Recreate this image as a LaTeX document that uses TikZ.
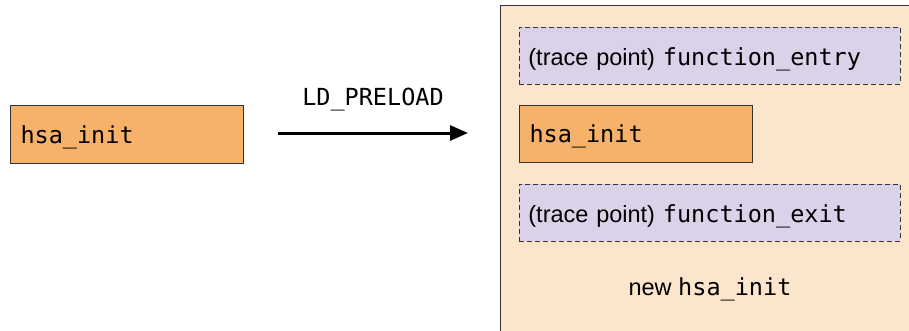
\documentclass[tikz,border=0pt]{standalone}
\usepackage{fontspec}
\setmainfont{Liberation Sans}
\setmonofont{DejaVu Sans Mono}
\usetikzlibrary{arrows.meta}
\definecolor{orangebox}{HTML}{F6B26B}
\definecolor{peach}{HTML}{FCE5CD}
\definecolor{lavender}{HTML}{D9D2E9}
\definecolor{edge}{HTML}{333333}
\tikzset{
  funcbox/.style={draw=edge, line width=1pt, fill=orangebox, anchor=north west,
    minimum height=58pt, text width=213pt, inner xsep=10pt, align=left,
    text height=18pt, text depth=1pt,
    font=\fontsize{23.5}{28}\selectfont\ttfamily},
  tracebox/.style={draw=edge, line width=0.8pt, dash pattern=on 5pt off 3pt, fill=lavender,
    anchor=north west, minimum height=57pt, text width=363pt, inner xsep=9pt, align=left,
    text height=19pt, text depth=0pt,
    font=\fontsize{23.5}{28}\selectfont},
  plain/.style={font=\fontsize{23.5}{28}\selectfont, inner sep=0pt}
}
\begin{document}
\begin{tikzpicture}[x=1pt,y=-1pt]
\useasboundingbox (0,0) rectangle (909,330);
\clip (0,0) rectangle (909,330);
\fill[white] (0,0) rectangle (909,330);
\node[draw=edge, line width=1pt, fill=peach, anchor=north west, minimum width=420pt, minimum height=340pt, inner sep=0pt] (newbox) at (500,5) {};
\node[funcbox] (orig) at (10,105) {hsa\_init};
\node[plain, anchor=base, font=\fontsize{23.5}{28}\selectfont\ttfamily] (ldp) at (373,105) {LD\_PRELOAD};
\coordinate (a1) at (278,133);
\coordinate (a2) at (468,133);
\draw[line width=3pt, -{Triangle[length=18pt,width=15pt]}] (a1) -- (a2);
\node[tracebox] (entry) at (519,27) {(trace point) {\ttfamily function\_entry}};
\node[funcbox, minimum height=57pt] (inner) at (519,105) {hsa\_init};
\node[tracebox] (exit) at (519,184) {(trace point) {\ttfamily function\_exit}};
\node[plain, anchor=base] (label) at (710,295) {new {\ttfamily hsa\_init}};
\end{tikzpicture}
\end{document}
